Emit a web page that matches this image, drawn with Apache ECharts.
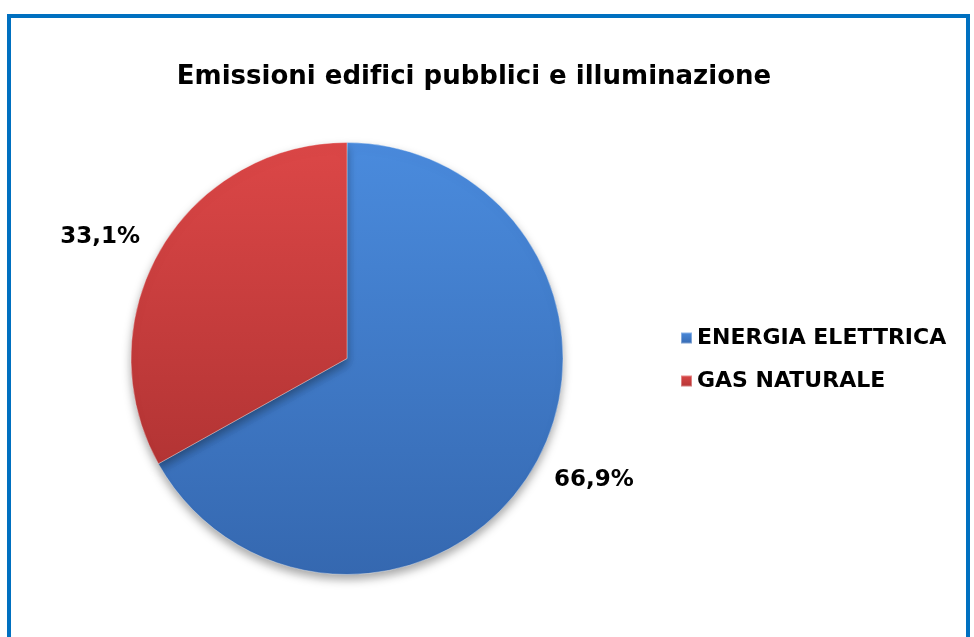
<!DOCTYPE html>
<html>
<head>
<meta charset="utf-8">
<script src="https://cdn.jsdelivr.net/npm/echarts@6/dist/echarts.min.js"></script>
<style>
  html, body { margin: 0; padding: 0; background: #ffffff; }
  #frame {
    position: absolute; left: 7px; top: 14px; width: 955px; height: 640px;
    border-left: 4px solid #0070C0; border-top: 4px solid #0070C0; border-right: 4px solid #0070C0;
  }
  #chart { position: absolute; left: 0; top: 0; width: 974px; height: 637px; }
</style>
</head>
<body>
<div id="frame"></div>
<div id="chart"></div>
<script>
// Emission shares by source (percent)
const categories = ['ENERGIA ELETTRICA', 'GAS NATURALE'];
const shares = [66.9, 33.1];

// zero-width non-joiners keep "f" and "i" as separate glyphs
const chartTitle = 'Emissioni edif\u200Cici pubblici e illuminazione';

const fills = [
  { top: '#4A8BDD', bottom: '#3568B0' },
  { top: '#DC4747', bottom: '#B33434' }
];

function vGrad(c) {
  return {
    type: 'linear', x: 0, y: 0, x2: 0, y2: 1,
    colorStops: [{ offset: 0, color: c.top }, { offset: 1, color: c.bottom }]
  };
}

const font = 'Verdana, "DejaVu Sans", sans-serif';

const chart = echarts.init(document.getElementById('chart'), null, { renderer: 'canvas' });
chart.setOption({
  backgroundColor: 'transparent',
  animation: false,
  title: {
    text: chartTitle,
    left: 469, top: 72, textAlign: 'center', textVerticalAlign: 'middle',
    textStyle: { fontFamily: font, fontWeight: 'bold', fontSize: 26, color: '#000000' }
  },
  legend: {
    orient: 'vertical',
    left: 680, top: 327, padding: 0,
    itemWidth: 11, itemHeight: 11, itemGap: 21,
    icon: 'rect',
    textStyle: { fontFamily: font, fontWeight: 'bold', fontSize: 22, color: '#000000' },
    data: categories
  },
  series: [{
    type: 'pie',
    center: [347, 358.5],
    radius: 216,
    startAngle: 90,
    clockwise: true,
    avoidLabelOverlap: false,
    label: {
      show: true,
      position: 'outside',
      distanceToLabelLine: 0,
      formatter: p => p.value.toFixed(1).replace('.', ',') + '%',
      fontFamily: font, fontWeight: 'bold', fontSize: 23, color: '#000000'
    },
    labelLine: { show: false, length: 24, length2: 0 },
    itemStyle: {
      borderColor: 'rgba(255,255,255,0.35)', borderWidth: 1,
      shadowBlur: 10, shadowOffsetY: 5, shadowColor: 'rgba(0,0,0,0.35)'
    },
    emphasis: { disabled: true },
    data: categories.map((name, i) => ({
      name, value: shares[i],
      itemStyle: { color: vGrad(fills[i]) }
    }))
  }]
});
</script>
</body>
</html>
